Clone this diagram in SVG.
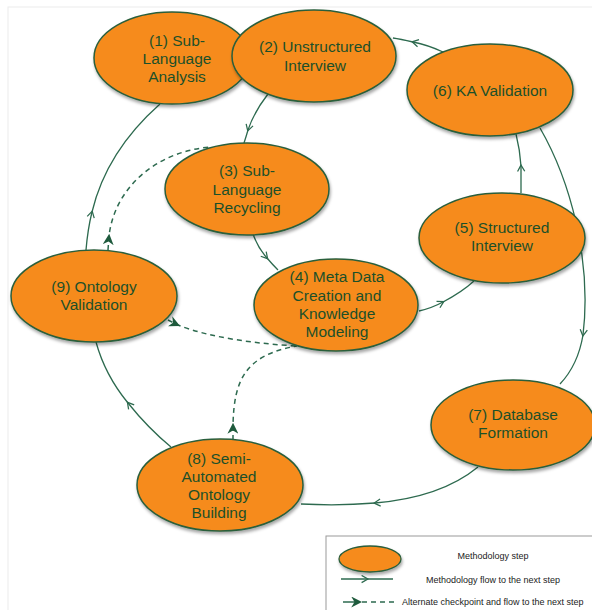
<svg xmlns="http://www.w3.org/2000/svg" width="592" height="610" viewBox="0 0 592 610">
<style>
.node ellipse{fill:#F68B1F;stroke:#2A5E3B;stroke-width:1.5;filter:url(#sh)}
.node text{font-family:"Liberation Sans",Arial,sans-serif;font-size:15.5px;fill:#1C5029;text-anchor:middle}
.flow{fill:none;stroke:#2D6A4F;stroke-width:1.3;marker-mid:url(#open)}
.alt{fill:none;stroke:#2D6A4F;stroke-width:1.5;stroke-dasharray:5 4;marker-mid:url(#filled)}
.leg{font-family:"Liberation Sans",Arial,sans-serif;font-size:9px;fill:#222}
</style>
<defs>
<filter id="sh" x="-10%" y="-10%" width="125%" height="135%">
<feDropShadow dx="1" dy="2.5" stdDeviation="1.5" flood-color="#000" flood-opacity="0.35"/>
</filter>
<marker id="open" viewBox="0 0 10 10" refX="7" refY="5" markerWidth="9" markerHeight="9" markerUnits="userSpaceOnUse" orient="auto">
<path d="M1,1 L8,5 L1,9" fill="none" stroke="#2D6A4F" stroke-width="1.4"/>
</marker>
<marker id="filled" viewBox="0 0 10 10" refX="8" refY="5" markerWidth="11" markerHeight="11" markerUnits="userSpaceOnUse" orient="auto">
<path d="M0,0 L10,5 L0,10 L3,5 Z" fill="#1E5A3C"/>
</marker>
</defs>
<rect x="8" y="7" width="600" height="620" fill="#fff" stroke="#ececec" stroke-width="1"/>

<g id="connectors">
<path class="flow" d="M268 94 Q254 112 248 130 Q246 137 244 143"/>
<path class="flow" d="M253 234 Q258 248 267 258 Q272 264 278 270"/>
<path class="flow" d="M419 311 Q432 308 443 302 Q462 292 474 281"/>
<path class="flow" d="M521 193 Q521 180 521 166 Q520 150 516 134"/>
<path class="flow" d="M443 52 Q428 45 413 42 Q400 39 393 38"/>
<path class="flow" d="M540 128 C570 180 592 260 583 335 Q578 365 560 384"/>
<path class="flow" d="M478 467 C450 490 410 500 375 503 Q340 506 301 504"/>
<path class="flow" d="M171 447 Q148 428 128 403 Q105 375 96 342"/>
<path class="flow" d="M86 250 C87 238 89 224 92 212 C102 170 125 135 160 104"/>
<path class="alt" d="M108 250 L109 236 C115 185 160 150 212 147"/>
<path class="alt" d="M168 320 L178 325 C210 338 260 344 297 346"/>
<path class="alt" d="M233 440 L233 425 C234 380 245 355 297 346"/>
</g>

<g id="n1" class="node"><ellipse cx="172" cy="58" rx="78" ry="46"/><text x="177" y="46">(1) Sub-</text><text x="177" y="64">Language</text><text x="177" y="82">Analysis</text></g>
<g id="n2" class="node"><ellipse cx="314" cy="56" rx="82" ry="46"/><text x="315" y="52">(2) Unstructured</text><text x="315" y="71">Interview</text></g>
<g id="n6" class="node"><ellipse cx="490" cy="90" rx="83" ry="46"/><text x="490" y="96">(6) KA Validation</text></g>
<g id="n3" class="node"><ellipse cx="247" cy="189" rx="82" ry="46"/><text x="247" y="176">(3) Sub-</text><text x="247" y="195">Language</text><text x="247" y="213">Recycling</text></g>
<g id="n5" class="node"><ellipse cx="502" cy="238" rx="83" ry="45"/><text x="502" y="233">(5) Structured</text><text x="502" y="251">Interview</text></g>
<g id="n9" class="node"><ellipse cx="94" cy="296" rx="83" ry="46"/><text x="94" y="292">(9) Ontology</text><text x="94" y="310">Validation</text></g>
<g id="n4" class="node"><ellipse cx="336" cy="305" rx="82" ry="46"/><text x="337" y="282">(4) Meta Data</text><text x="337" y="301">Creation and</text><text x="337" y="319">Knowledge</text><text x="337" y="337">Modeling</text></g>
<g id="n7" class="node"><ellipse cx="513" cy="425" rx="82" ry="45"/><text x="513" y="420">(7) Database</text><text x="513" y="438">Formation</text></g>
<g id="n8" class="node"><ellipse cx="220" cy="485" rx="83" ry="46"/><text x="219" y="464">(8) Semi-</text><text x="219" y="482">Automated</text><text x="219" y="500">Ontology</text><text x="219" y="518">Building</text></g>

<g id="legend">
<rect x="326" y="536" width="280" height="80" fill="#fff" stroke="#9a9a9a" stroke-width="1"/>
<ellipse cx="370" cy="559" rx="31" ry="13" fill="#F68B1F" stroke="#2A5E3B" stroke-width="1.3" filter="url(#sh)"/>
<text class="leg" x="493" y="559" text-anchor="middle">Methodology step</text>
<path class="flow" d="M341 579 L367 579 L393 579"/>
<text class="leg" x="493" y="583" text-anchor="middle">Methodology flow to the next step</text>
<path d="M343 602 L360 602" stroke="#2D6A4F" stroke-width="1.5" marker-end="url(#filled)"/>
<path d="M362 602 L397 602" stroke="#2D6A4F" stroke-width="1.5" stroke-dasharray="5 4"/>
<text class="leg" x="402" y="605">Alternate checkpoint and flow to the next step</text>
</g>
</svg>
